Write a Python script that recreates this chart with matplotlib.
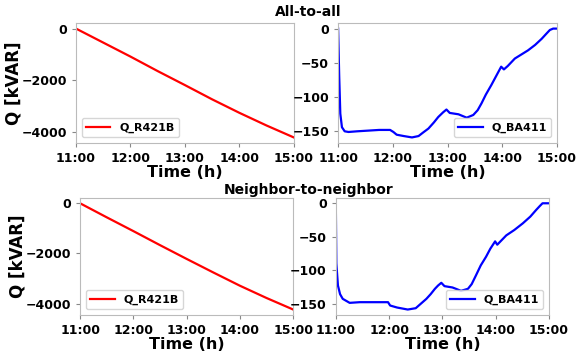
import matplotlib.pyplot as plt

# hours after midnight for each trace
t_r421b = [11.0, 11.5, 12.0, 12.5, 13.0, 13.5, 14.0, 14.5, 15.0]
q_r421b_a2a = [0, -540, -1080, -1640, -2180, -2730, -3250, -3740, -4200]
q_r421b_n2n = [0, -560, -1110, -1670, -2220, -2760, -3290, -3780, -4240]

t_ba411_a2a = [11.0, 11.02, 11.04, 11.07, 11.12, 11.19, 11.35, 11.55, 11.75, 11.95,
               12.01, 12.07, 12.2, 12.35, 12.47, 12.55, 12.65, 12.75, 12.83, 12.92,
               12.98, 13.04, 13.2, 13.35, 13.47, 13.55, 13.62, 13.7, 13.8, 13.9,
               13.98, 14.03, 14.1, 14.23, 14.47, 14.6, 14.72, 14.8, 14.87, 14.93, 15.0]
q_ba411_a2a = [0, -70, -125, -145, -151, -152, -151, -150, -149, -149,
               -152, -156, -158, -160, -158, -153, -147, -138, -130, -123,
               -119, -124, -126, -131, -127, -120, -110, -97, -83, -68,
               -56, -60, -55, -44, -32, -24, -15, -8, -2, 0, 0]

t_ba411_n2n = [11.0, 11.01, 11.04, 11.08, 11.13, 11.26, 11.45, 11.63, 11.8, 11.98,
               12.02, 12.15, 12.35, 12.5, 12.6, 12.7, 12.78, 12.86, 12.92, 12.98,
               13.04, 13.19, 13.35, 13.48, 13.55, 13.63, 13.72, 13.82, 13.9, 13.99,
               14.03, 14.2, 14.35, 14.51, 14.65, 14.76, 14.83, 14.88, 15.0]
q_ba411_n2n = [0, -90, -123, -136, -143, -149, -148, -148, -148, -148,
               -153, -156, -159, -157, -150, -143, -136, -128, -123, -119,
               -124, -126, -131, -128, -121, -108, -93, -80, -68, -57,
               -62, -48, -40, -30, -20, -10, -4, 0, 0]

hour_ticks = [11, 12, 13, 14, 15]
hour_labels = ['11:00', '12:00', '13:00', '14:00', '15:00']
row_titles = ['All-to-all', 'Neighbor-to-neighbor']

plt.rcParams['font.weight'] = 'bold'
plt.rcParams['axes.labelweight'] = 'bold'

fig = plt.figure(figsize=(5.76, 3.51), dpi=100)

boxes = [
    [0.132, 0.593, 0.378, 0.341],
    [0.587, 0.593, 0.380, 0.341],
    [0.139, 0.103, 0.370, 0.333],
    [0.583, 0.103, 0.370, 0.333],
]
series = [
    (t_r421b, q_r421b_a2a, 'red', 'Q_R421B', 'lower left'),
    (t_ba411_a2a, q_ba411_a2a, 'blue', 'Q_BA411', 'lower right'),
    (t_r421b, q_r421b_n2n, 'red', 'Q_R421B', 'lower left'),
    (t_ba411_n2n, q_ba411_n2n, 'blue', 'Q_BA411', 'lower right'),
]

for i, (box, (t, q, c, name, loc)) in enumerate(zip(boxes, series)):
    ax = fig.add_axes(box)
    ax.plot(t, q, color=c, lw=1.6, label=name)
    ax.set_xlim(11, 15)
    ax.set_xticks(hour_ticks)
    ax.set_xticklabels(hour_labels)
    ax.tick_params(labelsize=9, length=3, color='#888888')
    for s in ax.spines.values():
        s.set_color('#bbbbbb')
    ax.set_xlabel('Time (h)', fontsize=11.5, labelpad=0)
    if i % 2 == 0:
        ax.set_yticks([0, -2000, -4000])
        ax.set_ylabel('Q [kVAR]', fontsize=12, labelpad=-1)
    else:
        ax.set_yticks([0, -50, -100, -150])
    ax.legend(loc=loc, fontsize=8, frameon=True, handlelength=2.2,
              borderpad=0.4, edgecolor='#cccccc')

fig.text(0.535, 0.966, row_titles[0], ha='center', va='center',
         fontsize=10, fontweight='bold')
fig.text(0.535, 0.459, row_titles[1], ha='center', va='center',
         fontsize=10, fontweight='bold')

fig.savefig('out.png', dpi=100)
